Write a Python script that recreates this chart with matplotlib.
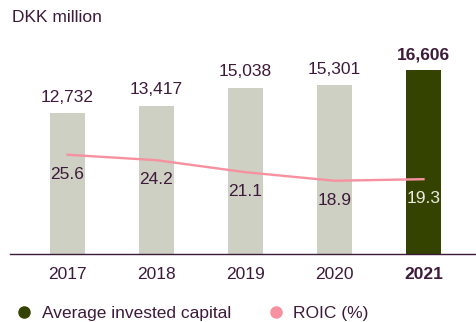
import matplotlib.pyplot as plt
from matplotlib.lines import Line2D

years = ["2017", "2018", "2019", "2020", "2021"]
capital = [12732, 13417, 15038, 15301, 16606]
roic = [25.6, 24.2, 21.1, 18.9, 19.3]

text_col = "#3d1a3a"
bar_col = "#cdd0c3"
last_col = "#344400"
line_col = "#f7919f"

plt.rcParams["font.family"] = ["Liberation Sans", "DejaVu Sans"]

fig = plt.figure(figsize=(4.76, 3.22), dpi=100)
ax = fig.add_axes([0.021, 0.211, 0.979, 0.665])
x = list(range(len(years)))
colors = [bar_col] * (len(years) - 1) + [last_col]
ax.bar(x, capital, width=0.4, color=colors)
ax.set_ylim(0, 19370)
ax.set_xlim(-0.646, 4.59)

last = len(years) - 1
for i, v in enumerate(capital):
    ax.annotate(f"{v:,}", (i, v), xytext=(0, 6), textcoords="offset points",
                ha="center", va="bottom", fontsize=12.5, color=text_col,
                fontweight="bold" if i == last else "normal")

ax2 = ax.twinx()
ax2.plot(x, roic, color=line_col, lw=1.7)
ax2.set_ylim(0, 55.2)
for i, v in enumerate(roic):
    ax2.annotate(f"{v}", (i, v), xytext=(0, -14), textcoords="offset points",
                 ha="center", va="center", fontsize=12.5,
                 color="#ebebe3" if i == last else text_col)

for a in (ax, ax2):
    for s in ["top", "right", "left"]:
        a.spines[s].set_visible(False)
    a.set_yticks([])
ax2.spines["bottom"].set_visible(False)
ax.spines["bottom"].set_color(text_col)
ax.spines["bottom"].set_linewidth(1.0)
ax.set_xticks(x)
ax.set_xticklabels(years, fontsize=12.5, color=text_col)
ax.get_xticklabels()[-1].set_fontweight("bold")
ax.tick_params(axis="x", length=0, pad=9)

fig.text(0.025, 0.945, "DKK million", fontsize=12.5, color=text_col, va="center")

handles = [
    Line2D([], [], marker="o", ls="", color=last_col, markersize=8),
    Line2D([], [], marker="o", ls="", color=line_col, markersize=8),
]
fig.legend(handles, ["Average invested capital", "ROIC (%)"], loc="center left",
           bbox_to_anchor=(0.0, 0.027), ncol=2, frameon=False, fontsize=12.5,
           labelcolor=text_col, handletextpad=0.5, columnspacing=2.1,
           handlelength=1.0)

fig.savefig("out.png", dpi=100)
